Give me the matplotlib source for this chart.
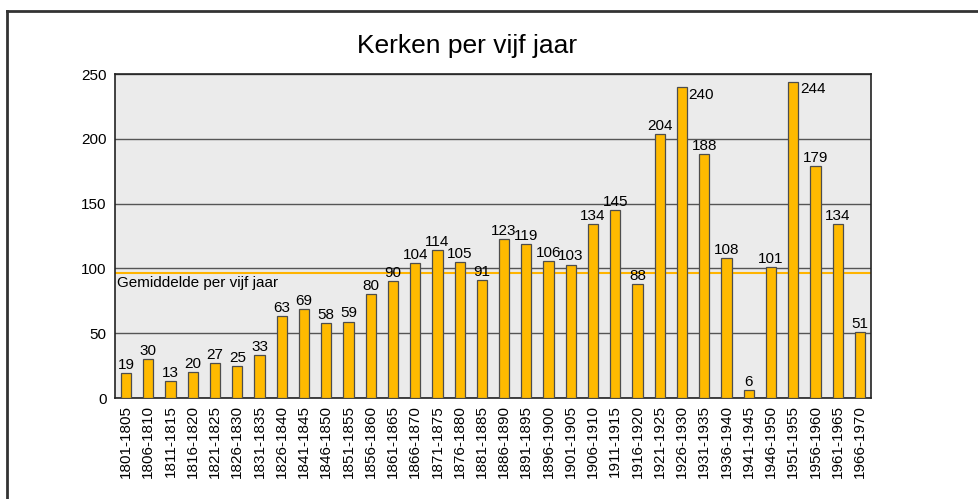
import matplotlib
matplotlib.use("Agg")
import matplotlib.pyplot as plt
from matplotlib.lines import Line2D

periods = ["1801-1805", "1806-1810", "1811-1815", "1816-1820", "1821-1825",
           "1826-1830", "1831-1835", "1826-1840", "1841-1845", "1846-1850",
           "1851-1855", "1856-1860", "1861-1865", "1866-1870", "1871-1875",
           "1876-1880", "1881-1885", "1886-1890", "1891-1895", "1896-1900",
           "1901-1905", "1906-1910", "1911-1915", "1916-1920", "1921-1925",
           "1926-1930", "1931-1935", "1936-1940", "1941-1945", "1946-1950",
           "1951-1955", "1956-1960", "1961-1965", "1966-1970"]
kerken = [19, 30, 13, 20, 27, 25, 33, 63, 69, 58, 59, 80, 90, 104, 114, 105,
          91, 123, 119, 106, 103, 134, 145, 88, 204, 240, 188, 108, 6, 101,
          244, 179, 134, 51]
gemiddelde = sum(kerken) / len(kerken)

plt.rcParams['font.family'] = ['Liberation Sans', 'DejaVu Sans']

fig = plt.figure(figsize=(9.79, 4.99), dpi=100)
ax = fig.add_axes([115 / 979, 101 / 499, 756 / 979, 324 / 499])
ax.set_facecolor("#EBEBEB")

x = list(range(len(kerken)))
ax.bar(x, kerken, width=0.46, color="#FFBA00", edgecolor="#4d4d4d",
       linewidth=0.9, zorder=3)

for xi, v in zip(x, kerken):
    if v > 230:
        ax.text(xi + 0.3, v - 0.5, str(v), ha="left", va="top", fontsize=11, zorder=4)
    else:
        ax.text(xi, v + 0.8, str(v), ha="center", va="bottom", fontsize=11, zorder=4)

ax.axhline(gemiddelde, color="#FFB400", lw=1.5, zorder=2)
ax.text(-0.4, gemiddelde - 2.5, "Gemiddelde per vijf jaar", ha="left", va="top",
        fontsize=11, zorder=4)

ax.set_xlim(-0.5, len(kerken) - 0.5)
ax.set_ylim(0, 250)
ax.set_yticks([0, 50, 100, 150, 200, 250])
ax.yaxis.grid(True, color="#555555", lw=1.0, zorder=1)
ax.set_xticks(x)
ax.set_xticklabels(periods, rotation=90)
ax.tick_params(axis="both", length=0, labelsize=11)
ax.tick_params(axis="x", pad=5)
ax.tick_params(axis="y", pad=6)
for s in ax.spines.values():
    s.set_color("#222222")
    s.set_linewidth(1.2)

fig.suptitle("Kerken per vijf jaar", x=467 / 979, y=1 - 46 / 499, va="center",
             fontsize=19)

# outer frame (top and left only visible)
fig.add_artist(Line2D([7 / 979, 1], [1 - 11 / 499, 1 - 11 / 499],
                      transform=fig.transFigure, color="#333333", lw=2))
fig.add_artist(Line2D([7 / 979, 7 / 979], [0, 1 - 11 / 499],
                      transform=fig.transFigure, color="#333333", lw=2))

fig.savefig("out.png", dpi=100)
